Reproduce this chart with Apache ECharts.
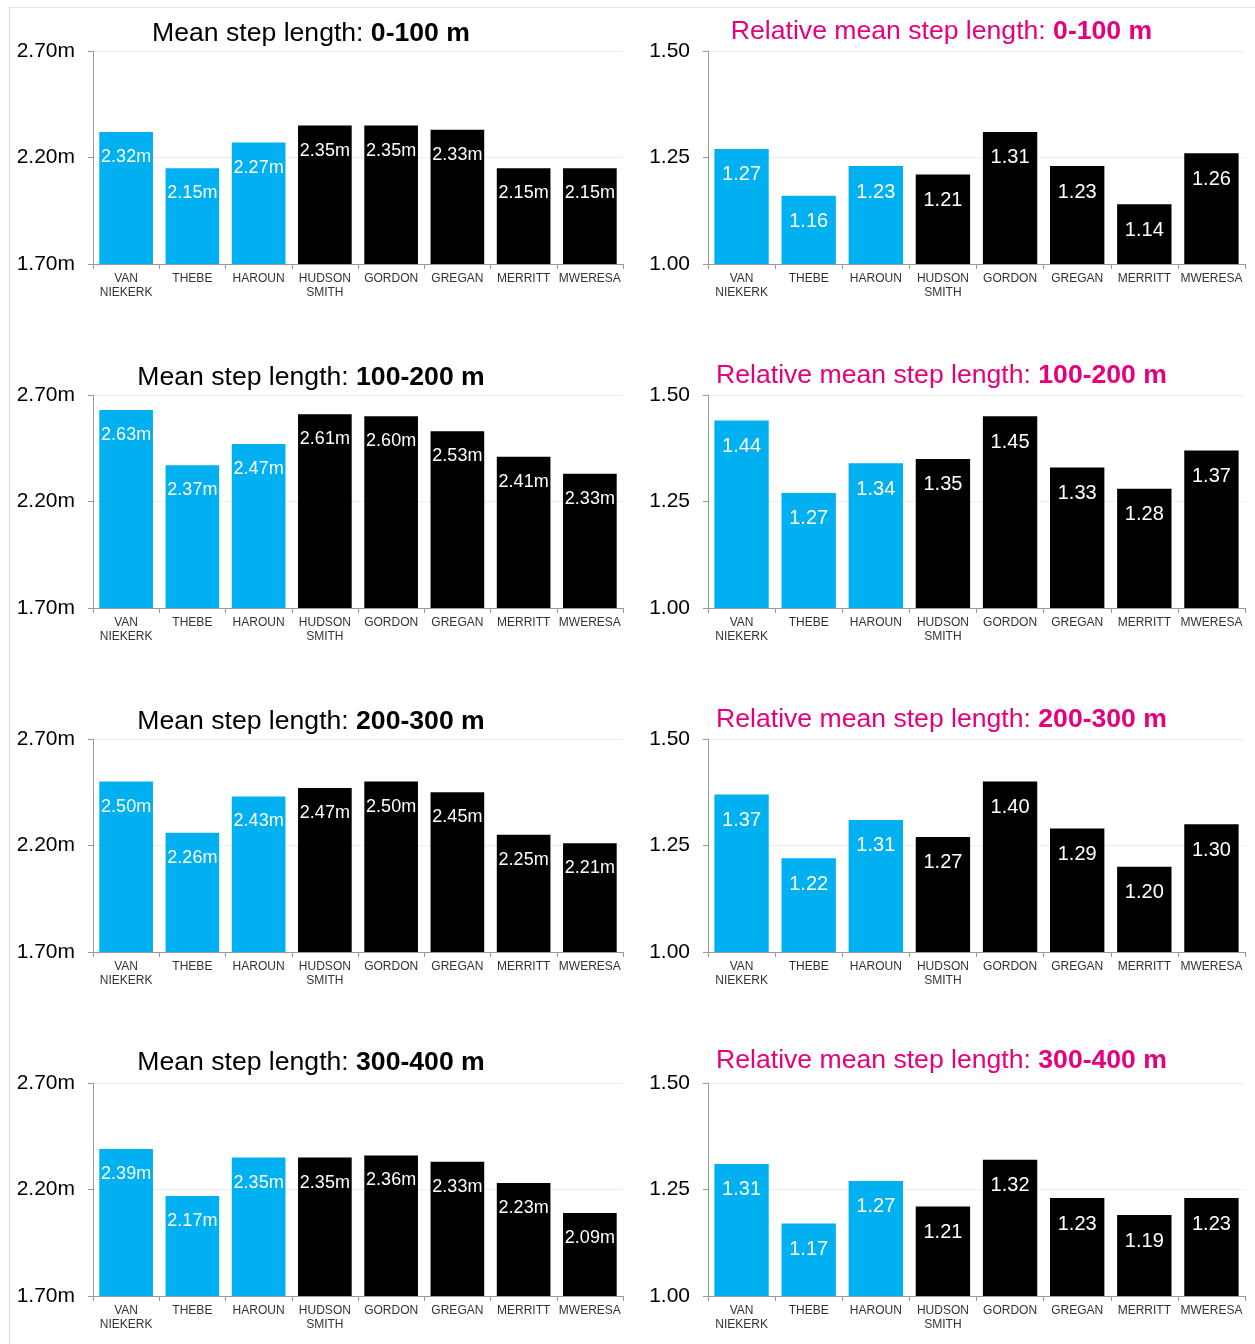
<!DOCTYPE html>
<html>
<head>
<meta charset="utf-8">
<script src="https://cdn.jsdelivr.net/npm/echarts@6/dist/echarts.min.js"></script>
<style>
  html, body { margin: 0; padding: 0; background: #fff; overflow: hidden; }
  #wrap { position: relative; width: 1255px; height: 1344px; overflow: hidden; }
  .frame { position: absolute; left: 9px; top: 7px; right: 0; bottom: 0; border-left: 1px solid #ddd; border-top: 1px solid #e4e4e4; }
  .panel { position: absolute; height: 344px; }
</style>
</head>
<body>
<div id="wrap">
  <div class="frame"></div>
</div>
<script>
// athletes, first three are blue, rest black
const athletes = ['VAN\nNIEKERK', 'THEBE', 'HAROUN', 'HUDSON\nSMITH', 'GORDON', 'GREGAN', 'MERRITT', 'MWERESA'];
const barColors = ['#00B0F0', '#00B0F0', '#00B0F0', '#000000', '#000000', '#000000', '#000000', '#000000'];
const segments = ['0-100 m', '100-200 m', '200-300 m', '300-400 m'];

// mean step length (m)
const step0_100 = [2.32, 2.15, 2.27, 2.35, 2.35, 2.33, 2.15, 2.15];
const step100_200 = [2.63, 2.37, 2.47, 2.61, 2.60, 2.53, 2.41, 2.33];
const step200_300 = [2.50, 2.26, 2.43, 2.47, 2.50, 2.45, 2.25, 2.21];
const step300_400 = [2.39, 2.17, 2.35, 2.35, 2.36, 2.33, 2.23, 2.09];

// relative mean step length
const rel0_100 = [1.27, 1.16, 1.23, 1.21, 1.31, 1.23, 1.14, 1.26];
const rel100_200 = [1.44, 1.27, 1.34, 1.35, 1.45, 1.33, 1.28, 1.37];
const rel200_300 = [1.37, 1.22, 1.31, 1.27, 1.40, 1.29, 1.20, 1.30];
const rel300_400 = [1.31, 1.17, 1.27, 1.21, 1.32, 1.23, 1.19, 1.23];

const stepTicks = [1.70, 2.20, 2.70];
const relTicks = [1.00, 1.25, 1.50];

const stepData = [step0_100, step100_200, step200_300, step300_400];
const relData = [rel0_100, rel100_200, rel200_300, rel300_400];

const wrap = document.getElementById('wrap');
const titleTops = [20, 20, 20, 17];

function makePanel(left, width, top, opt) {
    const div = document.createElement('div');
    div.className = 'panel';
    div.style.left = left + 'px';
    div.style.top = top + 'px';
    div.style.width = width + 'px';
    wrap.appendChild(div);
    const chart = echarts.init(div, null, {renderer: 'canvas'});
    chart.setOption(opt);
}

function panelOption(cfg) {
    return {
        animation: false,
        title: {
            left: 'center',
            top: cfg.titleTop,
            padding: 0,
            text: '{a|' + cfg.prefix + '}{b|' + cfg.segment + '}',
            textStyle: {
                fontWeight: 'normal',
                rich: {
                    a: {fontSize: 26.6, fontFamily: 'Liberation Sans, Arial', fontWeight: 'normal', color: cfg.titleColor},
                    b: {fontSize: 26.6, fontFamily: 'Liberation Sans, Arial', fontWeight: 'bold', color: cfg.titleColor}
                }
            }
        },
        grid: {left: cfg.gridLeft, right: cfg.gridRight, top: 51, height: 213},
        xAxis: {
            type: 'category',
            data: athletes,
            axisLine: {lineStyle: {color: '#999'}},
            axisTick: {show: true, length: 5, lineStyle: {color: '#999'}},
            axisLabel: {
                fontSize: 12, lineHeight: 14, color: '#333', margin: 8, interval: 0,
                fontFamily: 'Liberation Sans, Arial'
            }
        },
        yAxis: {
            type: 'value',
            min: cfg.ticks[0],
            max: cfg.ticks[2],
            interval: cfg.ticks[1] - cfg.ticks[0],
            axisLine: {show: true, lineStyle: {color: '#999'}},
            axisTick: {show: true, length: 5, lineStyle: {color: '#999'}},
            splitLine: {lineStyle: {color: '#eeeeee'}},
            axisLabel: {
                fontSize: 21, color: '#000', margin: 18,
                fontFamily: 'Liberation Sans, Arial',
                formatter: v => v.toFixed(2) + cfg.unit
            }
        },
        series: [{
            type: 'bar',
            barCategoryGap: '19%',
            data: cfg.values.map((v, i) => ({value: v, itemStyle: {color: barColors[i]}})),
            label: {
                show: true,
                position: 'insideTop',
                distance: cfg.labelDist,
                color: '#fff',
                fontSize: cfg.labelSize,
                fontFamily: 'Liberation Sans, Arial',
                formatter: p => p.value.toFixed(2) + cfg.unit
            }
        }]
    };
}

for (let r = 0; r < 4; r++) {
    const top = r * 344;
    // left panel spans x -10..632 so the title centre lands at 311
    makePanel(-10, 642, top, panelOption({
        prefix: 'Mean step length: ', segment: segments[r], titleColor: '#000',
        titleTop: titleTops[r],
        gridLeft: 103, gridRight: 9, ticks: stepTicks, unit: 'm',
        values: stepData[r], labelSize: 18, labelDist: 16
    }));
    makePanel(630, 623, top, panelOption({
        prefix: 'Relative mean step length: ', segment: segments[r], titleColor: '#E5007E',
        titleTop: titleTops[r] - 2,
        gridLeft: 78, gridRight: 8, ticks: relTicks, unit: '',
        values: relData[r], labelSize: 20, labelDist: 16
    }));
}
</script>
</body>
</html>
